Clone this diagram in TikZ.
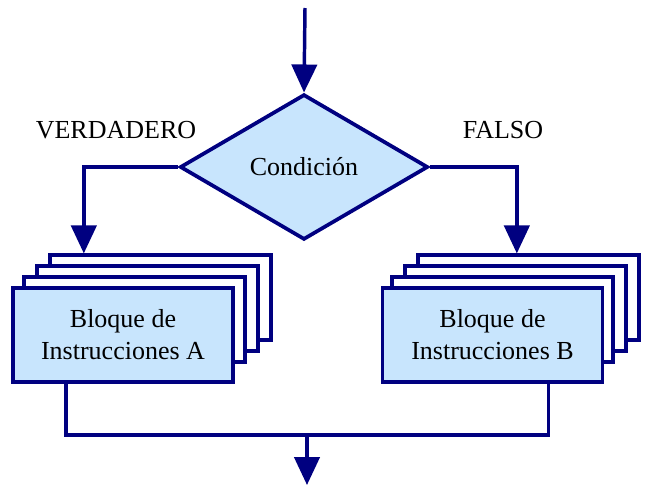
\documentclass[tikz,border=0pt]{standalone}
\usepackage{fontspec}
\setmainfont{Liberation Serif}
\usetikzlibrary{arrows.meta, positioning, shapes.geometric, calc}

\definecolor{navy}{RGB}{0,0,128}
\definecolor{celeste}{RGB}{200,229,253}

\begin{document}
\begin{tikzpicture}[
    x=0.75pt, y=-0.75pt,
    font=\fontsize{19.5}{24}\selectfont,
    linea/.style={draw=navy, line width=2.6pt},
    flecha/.style={linea, -{Triangle[length=21pt, width=19pt]}},
    decision/.style={diamond, draw=navy, line width=2.8pt, fill=celeste,
        inner sep=0pt, minimum width=186pt, minimum height=109pt},
    hoja/.style={rectangle, draw=navy, line width=2.4pt, fill=white,
        minimum width=165.75pt, minimum height=63.75pt, inner sep=0pt},
    bloque/.style={rectangle, draw=navy, line width=2.8pt, fill=celeste,
        minimum width=165pt, minimum height=70.5pt, inner sep=0pt,
        align=center}
]
    \useasboundingbox (0,0) rectangle (647,486);

    % entrada y condicion
    \coordinate (inicio) at (305,8);
    \node[decision] (cond) at (304,167) {Condición};
    \draw[flecha] (inicio) -- (cond.north);

    \node (verd) at (116,130) {VERDADERO};
    \node (falso) at (503,130) {FALSO};

    % bloque A (hojas detras)
    \node[hoja] (a3) at (160.5,297.5) {};
    \node[hoja] (a2) at (147.5,308.5) {};
    \node[hoja] (a1) at (134.5,319.5) {};
    \node[bloque] (blA) at (123,335) {Bloque de\\Instrucciones A};

    % bloque B (hojas detras)
    \node[hoja] (b3) at (528.5,297.5) {};
    \node[hoja] (b2) at (515.5,308.5) {};
    \node[hoja] (b1) at (502.5,319.5) {};
    \node[bloque] (blB) at (492.5,335) {Bloque de\\Instrucciones B};

    % ramas
    \draw[flecha] (cond.west) -| ($(a3.north west)!0.158!(a3.north east)$);
    \draw[flecha] (cond.east) -| ($(b3.north west)!0.448!(b3.north east)$);

    % union y salida
    \coordinate (union) at (307,435);
    \coordinate (fin) at (307,485);
    \draw[linea] ($(blA.south west)!0.245!(blA.south east)$) |- (union)
        -| ($(blB.south west)!0.75!(blB.south east)$);
    \draw[flecha] (union) -- (fin);
\end{tikzpicture}
\end{document}
